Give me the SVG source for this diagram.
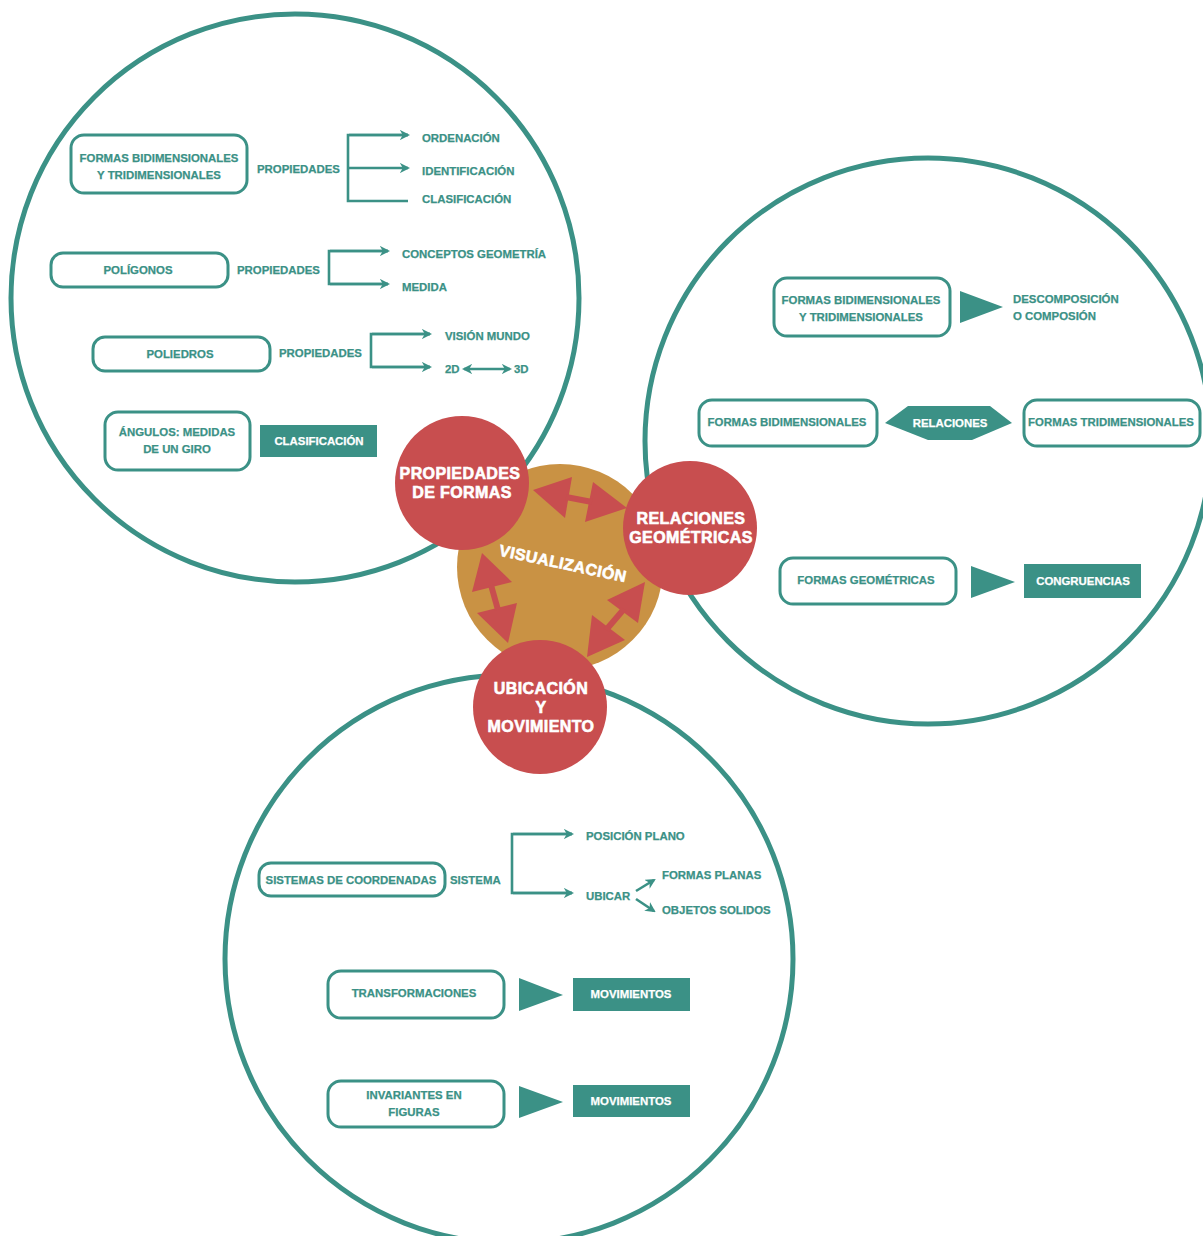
<svg xmlns="http://www.w3.org/2000/svg" width="1203" height="1236" viewBox="0 0 1203 1236">
  <defs>
    <style>
      .ring { fill: none; stroke: #3b9186; stroke-width: 5; }
      .box { fill: #ffffff; stroke: #3b9186; stroke-width: 3; }
      .fill { fill: #3b9186; }
      .t { font-family: "Liberation Sans", Arial, sans-serif; font-weight: bold; font-size: 11.4px; fill: #3b9186; stroke: #3b9186; stroke-width: 0.25; }
      .w { font-family: "Liberation Sans", Arial, sans-serif; font-weight: bold; font-size: 11.4px; fill: #ffffff; stroke: #ffffff; stroke-width: 0.25; }
      .big { font-family: "Liberation Sans", Arial, sans-serif; font-weight: bold; font-size: 16px; fill: #ffffff; stroke: #ffffff; stroke-width: 0.6; letter-spacing: 0.4px; }
      .link { fill: none; stroke: #3b9186; stroke-width: 2.6; }
      .red { fill: #c84e4f; }
    </style>
    <marker id="head" viewBox="0 0 10 10" refX="8" refY="5" markerWidth="4" markerHeight="4" orient="auto-start-reverse" markerUnits="strokeWidth">
      <path d="M0,0 L10,5 L0,10 L3,5 z" fill="#3b9186"/>
    </marker>
  </defs>

  <!-- large theme rings -->
  <g id="rings">
    <circle class="ring" cx="295" cy="298" r="284"/>
    <circle class="ring" cx="928" cy="441" r="283"/>
    <circle class="ring" cx="509" cy="959" r="284"/>
  </g>

  <!-- central hub -->
  <g id="visualizacion">
    <circle cx="560" cy="567" r="103" fill="#c99244"/>
    <text class="big" x="563" y="569" text-anchor="middle" transform="rotate(12 563 563)" font-size="18">VISUALIZACIÓN</text>
  </g>

  <!-- double arrows inside the hub -->
  <g id="hub-arrows" class="red">
    <polygon points="533,490 572,477 565,518"/>
    <polygon points="627,508 593,482 585,522"/>
    <line x1="566" y1="497" x2="592" y2="502" stroke="#c84e4f" stroke-width="6"/>
    <polygon points="482,553 472,592 512,582"/>
    <polygon points="508,643 477,613 517,603"/>
    <line x1="491" y1="585" x2="498" y2="610" stroke="#c84e4f" stroke-width="6"/>
    <polygon points="645,582 607,600 638,623"/>
    <polygon points="587,657 592,615 625,640"/>
    <line x1="624" y1="609" x2="606" y2="630" stroke="#c84e4f" stroke-width="6"/>
  </g>

  <!-- theme discs -->
  <g id="propiedades-formas">
    <circle class="red" cx="462" cy="483" r="67"/>
    <text class="big" x="460" y="479" text-anchor="middle">PROPIEDADES</text>
    <text class="big" x="462" y="498" text-anchor="middle">DE FORMAS</text>
  </g>
  <g id="relaciones-geometricas">
    <circle class="red" cx="690" cy="528" r="67"/>
    <text class="big" x="691" y="524" text-anchor="middle">RELACIONES</text>
    <text class="big" x="691" y="543" text-anchor="middle">GEOMÉTRICAS</text>
  </g>
  <g id="ubicacion-movimiento">
    <circle class="red" cx="540" cy="707" r="67"/>
    <text class="big" x="541" y="694" text-anchor="middle">UBICACIÓN</text>
    <text class="big" x="541" y="713" text-anchor="middle">Y</text>
    <text class="big" x="541" y="732" text-anchor="middle">MOVIMIENTO</text>
  </g>

  <!-- connectors -->
  <g id="connectors">
    <!-- formas bi/tridimensionales -> propiedades -->
    <polyline class="link" points="408,135 348,135 348,201 408,201"/>
    <line class="link" x1="349" y1="135" x2="408" y2="135" marker-end="url(#head)"/>
    <line class="link" x1="348" y1="168" x2="408" y2="168" marker-end="url(#head)"/>
    <!-- poligonos -->
    <polyline class="link" points="388,251 329,251 329,284 388,284"/>
    <line class="link" x1="330" y1="251" x2="388" y2="251" marker-end="url(#head)"/>
    <line class="link" x1="330" y1="284" x2="388" y2="284" marker-end="url(#head)"/>
    <!-- poliedros -->
    <polyline class="link" points="430,334 371,334 371,367 430,367"/>
    <line class="link" x1="372" y1="334" x2="430" y2="334" marker-end="url(#head)"/>
    <line class="link" x1="372" y1="367" x2="430" y2="367" marker-end="url(#head)"/>
    <line class="link" x1="464" y1="369" x2="510" y2="369" marker-start="url(#head)" marker-end="url(#head)"/>
    <!-- sistemas de coordenadas -->
    <polyline class="link" points="572,834 512,834 512,893 572,893"/>
    <line class="link" x1="513" y1="834" x2="572" y2="834" marker-end="url(#head)"/>
    <line class="link" x1="513" y1="893" x2="572" y2="893" marker-end="url(#head)"/>
    <line class="link" x1="636" y1="891" x2="654" y2="880" marker-end="url(#head)"/>
    <line class="link" x1="636" y1="899" x2="654" y2="911" marker-end="url(#head)"/>
    <!-- solid pointers -->
    <polygon class="fill" points="960,291 1003,307 960,323"/>
    <polygon class="fill" points="971,566 1015,582 971,598"/>
    <polygon class="fill" points="519,978 563,995 519,1011"/>
    <polygon class="fill" points="519,1086 563,1102 519,1118"/>
  </g>

  <!-- propiedades de formas ring -->
  <g id="formas-bi-tri-1">
    <rect class="box" x="71" y="135" width="176" height="58" rx="13"/>
    <text class="t" x="159" y="162" text-anchor="middle">FORMAS BIDIMENSIONALES</text>
    <text class="t" x="159" y="179" text-anchor="middle">Y TRIDIMENSIONALES</text>
  </g>
  <g id="propiedades-1"><text class="t" x="257" y="173">PROPIEDADES</text></g>
  <g id="ordenacion"><text class="t" x="422" y="142">ORDENACIÓN</text></g>
  <g id="identificacion"><text class="t" x="422" y="175">IDENTIFICACIÓN</text></g>
  <g id="clasificacion-1"><text class="t" x="422" y="203">CLASIFICACIÓN</text></g>

  <g id="poligonos">
    <rect class="box" x="51" y="253" width="177" height="34" rx="12"/>
    <text class="t" x="138" y="274" text-anchor="middle">POLÍGONOS</text>
  </g>
  <g id="propiedades-2"><text class="t" x="237" y="274">PROPIEDADES</text></g>
  <g id="conceptos"><text class="t" x="402" y="258">CONCEPTOS GEOMETRÍA</text></g>
  <g id="medida"><text class="t" x="402" y="291">MEDIDA</text></g>

  <g id="poliedros">
    <rect class="box" x="93" y="337" width="177" height="34" rx="12"/>
    <text class="t" x="180" y="358" text-anchor="middle">POLIEDROS</text>
  </g>
  <g id="propiedades-3"><text class="t" x="279" y="357">PROPIEDADES</text></g>
  <g id="vision-mundo"><text class="t" x="445" y="340">VISIÓN MUNDO</text></g>
  <g id="dim-2d"><text class="t" x="445" y="373">2D</text></g>
  <g id="dim-3d"><text class="t" x="514" y="373">3D</text></g>

  <g id="angulos">
    <rect class="box" x="105" y="412" width="145" height="58" rx="13"/>
    <text class="t" x="177" y="436" text-anchor="middle">ÁNGULOS: MEDIDAS</text>
    <text class="t" x="177" y="453" text-anchor="middle">DE UN GIRO</text>
  </g>
  <g id="clasificacion-2">
    <rect class="fill" x="260" y="425" width="117" height="32"/>
    <text class="w" x="319" y="445" text-anchor="middle">CLASIFICACIÓN</text>
  </g>

  <!-- relaciones geometricas ring -->
  <g id="formas-bi-tri-2">
    <rect class="box" x="774" y="278" width="176" height="58" rx="13"/>
    <text class="t" x="861" y="304" text-anchor="middle">FORMAS BIDIMENSIONALES</text>
    <text class="t" x="861" y="321" text-anchor="middle">Y TRIDIMENSIONALES</text>
  </g>
  <g id="descomposicion">
    <text class="t" x="1013" y="303">DESCOMPOSICIÓN</text>
    <text class="t" x="1013" y="320">O COMPOSIÓN</text>
  </g>

  <g id="formas-bi">
    <rect class="box" x="699" y="400" width="178" height="46" rx="13"/>
    <text class="t" x="787" y="426" text-anchor="middle">FORMAS BIDIMENSIONALES</text>
  </g>
  <g id="relaciones">
    <polygon class="fill" points="885,423 908,406 990,406 1012,423 972,440 928,440"/>
    <text class="w" x="950" y="427" text-anchor="middle">RELACIONES</text>
  </g>
  <g id="formas-tri">
    <rect class="box" x="1024" y="400" width="176" height="46" rx="13"/>
    <text class="t" x="1111" y="426" text-anchor="middle">FORMAS TRIDIMENSIONALES</text>
  </g>

  <g id="formas-geometricas">
    <rect class="box" x="780" y="558" width="176" height="46" rx="13"/>
    <text class="t" x="866" y="584" text-anchor="middle">FORMAS GEOMÉTRICAS</text>
  </g>
  <g id="congruencias">
    <rect class="fill" x="1024" y="564" width="117" height="34"/>
    <text class="w" x="1083" y="585" text-anchor="middle">CONGRUENCIAS</text>
  </g>

  <!-- ubicacion y movimiento ring -->
  <g id="sistemas-coordenadas">
    <rect class="box" x="259" y="863" width="186" height="33" rx="12"/>
    <text class="t" x="351" y="884" text-anchor="middle">SISTEMAS DE COORDENADAS</text>
  </g>
  <g id="sistema"><text class="t" x="450" y="884">SISTEMA</text></g>
  <g id="posicion-plano"><text class="t" x="586" y="840">POSICIÓN PLANO</text></g>
  <g id="ubicar"><text class="t" x="586" y="900">UBICAR</text></g>
  <g id="formas-planas"><text class="t" x="662" y="879">FORMAS PLANAS</text></g>
  <g id="objetos-solidos"><text class="t" x="662" y="914">OBJETOS SOLIDOS</text></g>

  <g id="transformaciones">
    <rect class="box" x="328" y="971" width="176" height="47" rx="13"/>
    <text class="t" x="414" y="997" text-anchor="middle">TRANSFORMACIONES</text>
  </g>
  <g id="movimientos-1">
    <rect class="fill" x="573" y="978" width="117" height="33"/>
    <text class="w" x="631" y="998" text-anchor="middle">MOVIMIENTOS</text>
  </g>

  <g id="invariantes">
    <rect class="box" x="328" y="1081" width="176" height="46" rx="13"/>
    <text class="t" x="414" y="1099" text-anchor="middle">INVARIANTES EN</text>
    <text class="t" x="414" y="1116" text-anchor="middle">FIGURAS</text>
  </g>
  <g id="movimientos-2">
    <rect class="fill" x="573" y="1085" width="117" height="32"/>
    <text class="w" x="631" y="1105" text-anchor="middle">MOVIMIENTOS</text>
  </g>
</svg>
